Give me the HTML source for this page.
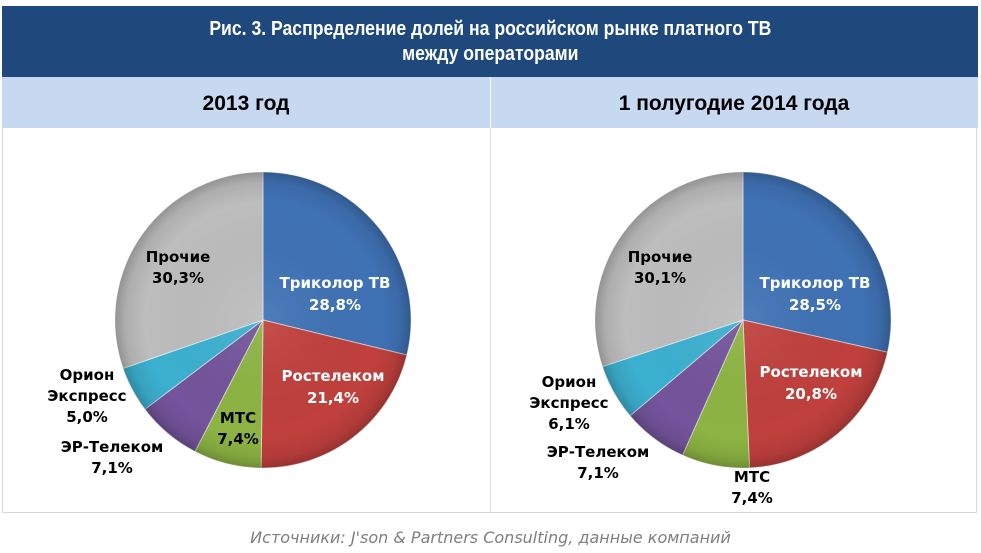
<!DOCTYPE html>
<html><head><meta charset="utf-8"><style>
body{margin:0;width:981px;height:553px;background:#fff;overflow:hidden;position:relative;font-family:"DejaVu Sans",sans-serif}
.t{position:absolute;left:2px;top:6px;width:976px;height:71px;background:#1F497D;color:#fff;font:bold 20px "Liberation Sans",sans-serif;line-height:25px;text-align:center;padding-top:11px;box-sizing:border-box}
.t span{display:inline-block;transform:scaleX(0.88)}
.b{position:absolute;left:2px;top:77px;width:976px;height:51px;background:#C6D9F1}
.b div{position:absolute;top:0;font:bold 21px "Liberation Sans",sans-serif;line-height:53px;color:#000;text-align:center}
.p{position:absolute;left:2px;top:128px;width:975px;height:385px;border:1px solid #d9d9d9;border-top:none;box-sizing:border-box}
.src{position:absolute;left:0;width:981px;top:528px;text-align:center;font:italic 16px "DejaVu Sans",sans-serif;color:#7f7f7f}
svg{position:absolute;left:0;top:0}
text{font-family:"DejaVu Sans",sans-serif;font-weight:bold;font-size:15px;text-anchor:middle}
</style></head><body>
<div class="t"><span>Рис. 3. Распределение долей на российском рынке платного ТВ<br>между операторами</span></div>
<div class="b"><div style="left:0;width:488px">2013 год</div><div style="left:488px;width:488px">1 полугодие 2014 года</div><span style="position:absolute;left:488px;top:0;width:1px;height:51px;background:#fff"></span></div>
<div class="p"><span style="position:absolute;left:487px;top:0;width:1px;height:384px;background:#e0e0e0"></span></div>
<div class="src">Источники: J'son &amp; Partners Consulting, данные компаний</div>
<svg id="s" width="981" height="553">
<defs>
<radialGradient id="sh" cx="50%" cy="50%" r="50%"><stop offset="0" stop-color="#fff" stop-opacity="0.08"/><stop offset="0.8" stop-color="#000" stop-opacity="0"/><stop offset="0.93" stop-color="#000" stop-opacity="0.08"/><stop offset="1" stop-color="#000" stop-opacity="0.22"/></radialGradient>
</defs>
<g id="pies"></g>
<g fill="#000">
<text x="178" y="262">Прочие</text><text x="178" y="283">30,3%</text>
<text x="335" y="288" fill="#fff">Триколор ТВ</text><text x="335" y="310" fill="#fff">28,8%</text>
<text x="333" y="381" fill="#fff">Ростелеком</text><text x="333" y="403" fill="#fff">21,4%</text>
<text x="238" y="423">МТС</text><text x="238" y="444">7,4%</text>
<text x="87" y="380">Орион</text><text x="87" y="401">Экспресс</text><text x="87" y="422">5,0%</text>
<text x="112" y="452">ЭР-Телеком</text><text x="112" y="473">7,1%</text>
<text x="660" y="262">Прочие</text><text x="660" y="283">30,1%</text>
<text x="815" y="288" fill="#fff">Триколор ТВ</text><text x="815" y="310" fill="#fff">28,5%</text>
<text x="811" y="377" fill="#fff">Ростелеком</text><text x="811" y="399" fill="#fff">20,8%</text>
<text x="752" y="482">МТС</text><text x="752" y="503">7,4%</text>
<text x="569" y="387">Орион</text><text x="569" y="408">Экспресс</text><text x="569" y="429">6,1%</text>
<text x="598" y="457">ЭР-Телеком</text><text x="598" y="478">7,1%</text>
</g>
</svg>
<script>
var C=['#3F72B5','#C0403D','#8DB443','#74549C','#3CB0D0','#BDBDBD'];
function pie(cx,cy,r,vals){var a=0,h='';vals.forEach(function(v,i){var a2=a+v/100*2*Math.PI;
var x1=cx+r*Math.sin(a),y1=cy-r*Math.cos(a),x2=cx+r*Math.sin(a2),y2=cy-r*Math.cos(a2);
h+='<path d="M'+cx+','+cy+' L'+x1+','+y1+' A'+r+','+r+' 0 '+(a2-a>Math.PI?1:0)+' 1 '+x2+','+y2+' Z" fill="'+C[i]+'" stroke="#fff" stroke-opacity="0.5" stroke-width="1"/>';a=a2;});
h+='<circle cx="'+cx+'" cy="'+cy+'" r="'+r+'" fill="url(#sh)"/>';return h;}
document.getElementById('pies').innerHTML=pie(263,320,148,[28.8,21.4,7.4,7.1,5.0,30.3])+pie(743,320,148,[28.5,20.8,7.4,7.1,6.1,30.1]);
</script>
</body></html>
